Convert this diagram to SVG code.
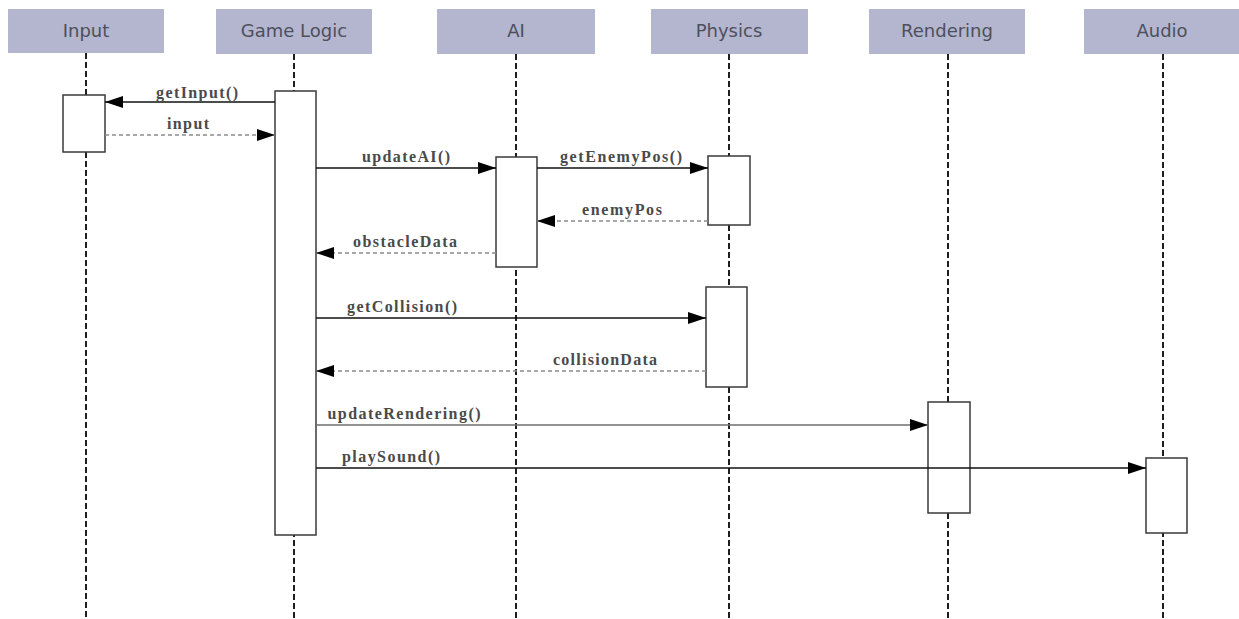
<svg xmlns="http://www.w3.org/2000/svg" width="1239" height="619" viewBox="0 0 1239 619">
  <style>
    .head { fill: #b3b6ce; }
    .htxt { font-family: "DejaVu Sans", Verdana, sans-serif; font-size: 18px; fill: #4e4f5c; text-anchor: middle; }
    .life { stroke: #1e1e1e; stroke-width: 2; stroke-dasharray: 6 3; fill: none; }
    .act { fill: #ffffff; stroke: #3a3a3a; stroke-width: 1.5; }
    .call { stroke: #111; stroke-width: 1.6; fill: none; marker-end: url(#tip); }
    .call-light { stroke: #6e6e6e; stroke-width: 1.3; fill: none; marker-end: url(#tip); }
    .reply { stroke: #8a8a8a; stroke-width: 1.5; stroke-dasharray: 4 3; fill: none; marker-end: url(#tip); }
    .lbl { font-family: "Liberation Serif", "Times New Roman", serif; font-weight: bold; font-size: 16px; fill: #4a4a4a; text-anchor: middle; }
  </style>
  <defs>
    <marker id="tip" markerUnits="userSpaceOnUse" markerWidth="19" markerHeight="13" refX="18" refY="6.5" orient="auto">
      <path d="M0,0.5 L18,6.5 L0,12.5 z" fill="#000"/>
    </marker>
  </defs>

  <rect width="1239" height="619" fill="#ffffff"/>

  <!-- participants: header, lifeline, activations -->
  <g id="input">
    <rect class="head" x="8" y="9" width="156" height="44"/>
    <text class="htxt" x="86" y="37">Input</text>
    <line class="life" x1="86" y1="53" x2="86" y2="619"/>
    <rect class="act" x="63" y="95" width="42" height="57"/>
  </g>

  <g id="game-logic">
    <rect class="head" x="216" y="9" width="156" height="45"/>
    <text class="htxt" x="294" y="37">Game Logic</text>
    <line class="life" x1="294" y1="54" x2="294" y2="619"/>
    <rect class="act" x="275" y="91" width="41" height="444"/>
  </g>

  <g id="ai">
    <rect class="head" x="437" y="9" width="158" height="45"/>
    <text class="htxt" x="516" y="37">AI</text>
    <line class="life" x1="516" y1="54" x2="516" y2="619"/>
    <rect class="act" x="496" y="157" width="41" height="110"/>
  </g>

  <g id="physics">
    <rect class="head" x="651" y="9" width="157" height="45"/>
    <text class="htxt" x="729" y="37">Physics</text>
    <line class="life" x1="729" y1="54" x2="729" y2="619"/>
    <rect class="act" x="708" y="156" width="42" height="69"/>
    <rect class="act" x="706" y="287" width="41" height="100"/>
  </g>

  <g id="rendering">
    <rect class="head" x="869" y="9" width="156" height="45"/>
    <text class="htxt" x="947" y="37">Rendering</text>
    <line class="life" x1="948" y1="54" x2="948" y2="619"/>
    <rect class="act" x="928" y="402" width="42" height="111"/>
  </g>

  <g id="audio">
    <rect class="head" x="1084" y="9" width="157" height="45"/>
    <text class="htxt" x="1162" y="37">Audio</text>
    <line class="life" x1="1163" y1="54" x2="1163" y2="619"/>
    <rect class="act" x="1146" y="458" width="41" height="75"/>
  </g>

  <!-- messages -->
  <g id="messages">
    <line class="call" x1="275" y1="102" x2="105" y2="102"/>
    <text class="lbl" x="197" y="98" textLength="82" lengthAdjust="spacing">getInput()</text>

    <line class="reply" x1="105" y1="135" x2="275" y2="135"/>
    <text class="lbl" x="188" y="129" textLength="42" lengthAdjust="spacing">input</text>

    <line class="call" x1="316" y1="168" x2="496" y2="168"/>
    <text class="lbl" x="406" y="162" textLength="88" lengthAdjust="spacing">updateAI()</text>

    <line class="call" x1="537" y1="168" x2="708" y2="168"/>
    <text class="lbl" x="621" y="162" textLength="122" lengthAdjust="spacing">getEnemyPos()</text>

    <line class="reply" x1="708" y1="221" x2="537" y2="221"/>
    <text class="lbl" x="622" y="215" textLength="80" lengthAdjust="spacing">enemyPos</text>

    <line class="reply" x1="496" y1="253" x2="316" y2="253"/>
    <text class="lbl" x="405" y="247" textLength="104" lengthAdjust="spacing">obstacleData</text>

    <line class="call" x1="316" y1="318" x2="706" y2="318"/>
    <text class="lbl" x="402" y="312" textLength="110" lengthAdjust="spacing">getCollision()</text>

    <line class="reply" x1="706" y1="371" x2="316" y2="371"/>
    <text class="lbl" x="605" y="365" textLength="104" lengthAdjust="spacing">collisionData</text>

    <line class="call-light" x1="316" y1="425" x2="928" y2="425"/>
    <text class="lbl" x="404" y="419" textLength="153" lengthAdjust="spacing">updateRendering()</text>

    <line class="call" x1="316" y1="468" x2="1146" y2="468"/>
    <text class="lbl" x="391" y="462" textLength="98" lengthAdjust="spacing">playSound()</text>
  </g>
</svg>
